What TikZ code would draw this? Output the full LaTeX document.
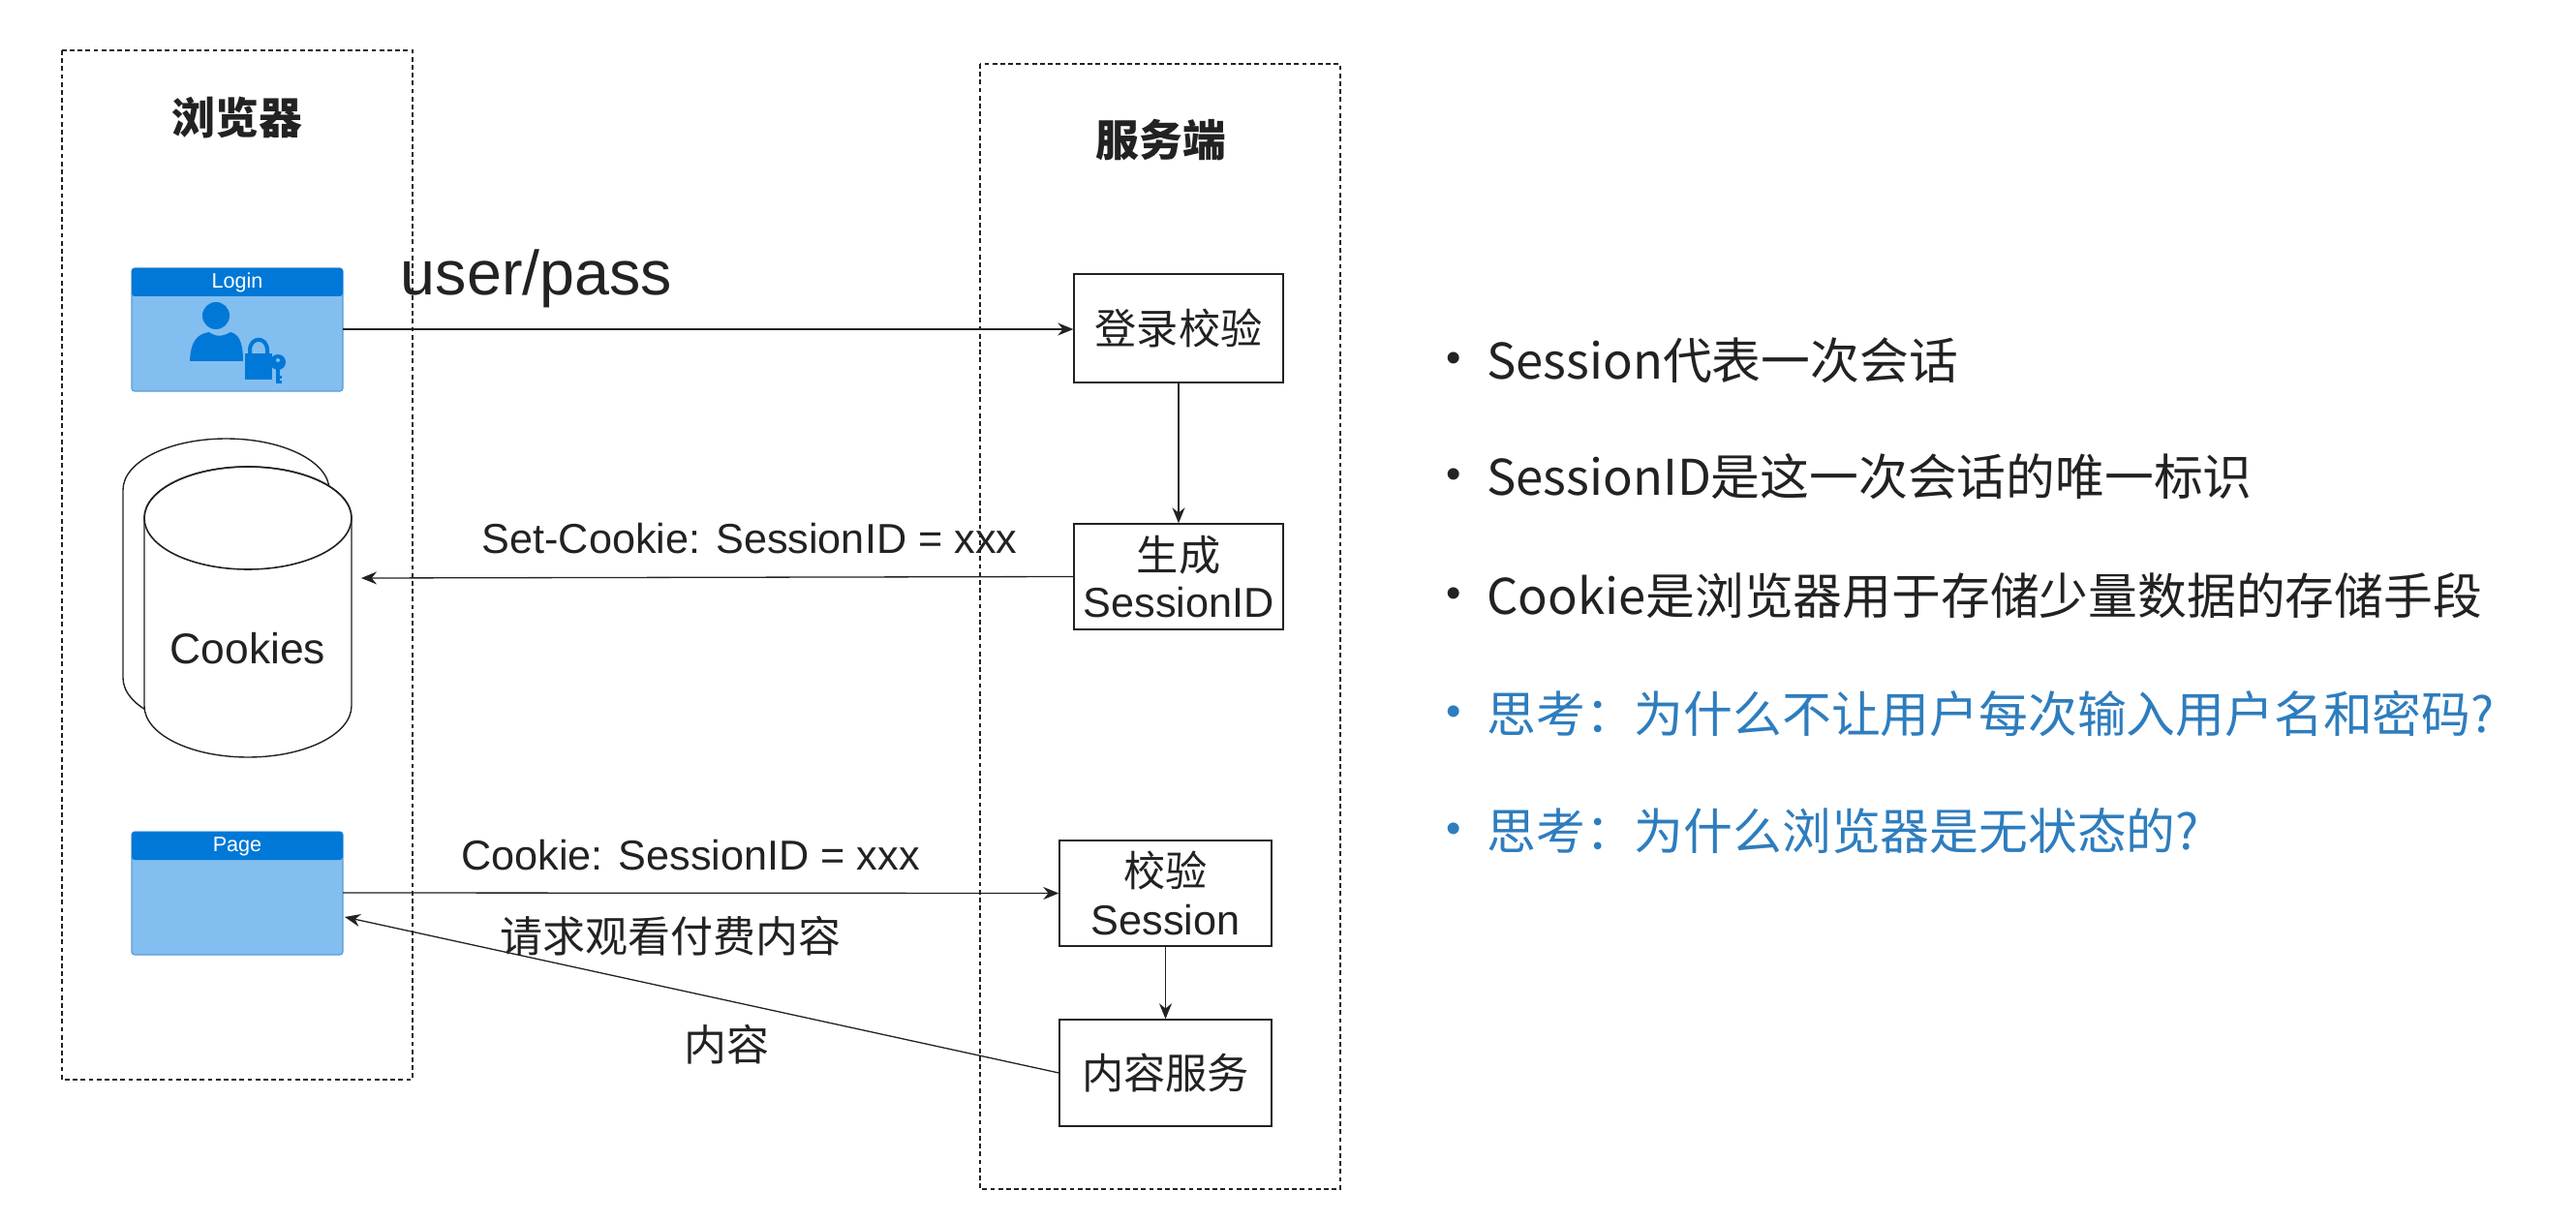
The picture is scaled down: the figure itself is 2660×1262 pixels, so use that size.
\documentclass[tikz,border=0pt]{standalone}
\usepackage{fontspec}
\setmainfont{Liberation Sans}
\newfontfamily\cjk{Noto Sans CJK SC}
\usetikzlibrary{arrows.meta}
\definecolor{hdr}{HTML}{0078D7}
\definecolor{bodyblue}{HTML}{83BEF0}
\definecolor{edgeblue}{HTML}{5A9BD5}
\definecolor{think}{HTML}{2E7DBE}
\definecolor{ink}{HTML}{222222}
\tikzset{
  px/.style={x=0.5pt,y=-0.5pt},
  zone/.style={draw=ink,dash pattern=on 2.4pt off 1.7pt,line width=0.6pt},
  stepbox/.style={draw=ink,line width=0.7pt,fill=white,align=center,inner sep=0pt,text=ink,font=\fontsize{21.6}{24}\selectfont},
  conn/.style={draw=ink,line width=0.65pt,-{Stealth[length=8pt,width=6.5pt]}},
  lbl/.style={text=ink,font=\fontsize{21.6}{25}\selectfont,inner sep=0pt},
  cjklbl/.style={text=ink,font=\cjk\fontsize{22}{26}\selectfont,inner sep=0pt},
  title/.style={text=ink,font=\cjk\bfseries\fontsize{22.4}{26}\selectfont,inner sep=0pt},
  bullet/.style={anchor=west,inner sep=0pt,font=\cjk\fontsize{25.4}{30}\selectfont,text=ink},
  dotb/.style={anchor=center,inner sep=0pt,font=\fontsize{22}{24}\selectfont,text=ink},
  win/.style={fill=bodyblue,draw=edgeblue,line width=0.6pt,rounded corners=1.5pt},
  wintitle/.style={text=white,font=\fontsize{10.8}{12}\selectfont,inner sep=0pt},
  cyl/.style={draw=ink,line width=0.7pt,fill=white},
}
\begin{document}
\begin{tikzpicture}[px]
\useasboundingbox (0,0) rectangle (2660,1262);
\fill[white] (0,0) rectangle (2660,1262);
% zones
\draw[zone] (64,52) rectangle (426,1115);
\draw[zone] (1012,66) rectangle (1384,1228);
\node[title] (tb) at (245,122) {浏览器};
\node[title] (ts) at (1199,145) {服务端};
% login window
\draw[win] (136,277) rectangle (354,404);
\fill[hdr,rounded corners=1.5pt] (136,277) rectangle (354,306);
\node[wintitle] (wl) at (245,292) {Login};
\coordinate (loginE) at (354,340);
\fill[hdr] (223,326) circle (14);
\fill[hdr] (196,373) .. controls (197,350) and (205,345) .. (216,343) .. controls (224,349) and (232,347) .. (238,343) .. controls (246,345) and (251,352) .. (251,373) -- cycle;
\fill[hdr] (253,365) rectangle (281,392);
\draw[hdr,line width=2pt] (258,366) -- (258,362) .. controls (258,347) and (276,347) .. (276,362) -- (276,366);
\fill[hdr] (287,374) circle (8);
\fill[bodyblue] (287,372) circle (2);
\fill[hdr] (285,380) rectangle (289,396);
\fill[hdr] (287,388) rectangle (291,391);
\fill[hdr] (287,393) rectangle (291,396);
% page window
\draw[win] (136,859) rectangle (354,986);
\fill[hdr,rounded corners=1.5pt] (136,859) rectangle (354,888);
\node[wintitle] (wp) at (245,874) {Page};
% cylinders
\draw[cyl] (127,506) arc (-180:0:106.5 and 53) -- (340,700) arc (0:180:106.5 and 53) -- cycle;
\draw[cyl] (149,535) arc (-180:0:107 and 53) -- (363,729) arc (0:180:107 and 53) -- cycle;
\draw[draw=ink,line width=0.8pt] (256,535) ellipse (107 and 53);
\node[lbl,font=\fontsize{22.2}{26}\selectfont] (ck) at (256,670) {Cookies};
\coordinate (ckE) at (373,597);
% server boxes
\node[stepbox,minimum width=108pt,minimum height=56pt] (b1) at (1217,339) {\cjk 登录校验};
\node[stepbox,minimum width=108pt,minimum height=54.5pt] (b2) at (1217,595.5) {\cjk 生成\\SessionID};
\node[stepbox,minimum width=109.5pt,minimum height=54.5pt] (b3) at (1203.5,922.5) {\cjk 校验\\[1pt]Session};
\node[stepbox,minimum width=109.5pt,minimum height=55pt] (b4) at (1203.5,1108) {\cjk 内容服务};
% connectors
\draw[conn] (loginE) -- (b1.west |- loginE);
\draw[conn] (b1.south) -- (b2.north);
\draw[conn] (b2.west) -- (ckE);
\coordinate (pageE) at (354,922);
\coordinate (pageR) at (356,947);
\draw[conn] (pageE) -- (b3.west);
\draw[conn] (b3.south) -- (b4.north);
\draw[conn] (b4.west) -- (pageR);
% labels
\node[lbl,font=\fontsize{32.3}{38}\selectfont,anchor=center] (up) at (554,288) {user/pass};
\node[lbl,anchor=center] (sc) at (774,556) {Set-Cookie: SessionID = xxx};
\node[lbl,anchor=center] (ci) at (713,883) {Cookie: SessionID = xxx};
\node[cjklbl] (rq) at (692,967) {请求观看付费内容};
\node[cjklbl] (nr) at (750,1079) {内容};
% bullets
\node[dotb] (d1) at (1501,374) {•};
\node[bullet] (t1) at (1535,372) {Session代表一次会话};
\node[dotb] (d2) at (1501,494) {•};
\node[bullet] (t2) at (1535,492) {SessionID是这一次会话的唯一标识};
\node[dotb] (d3) at (1501,617) {•};
\node[bullet] (t3) at (1535,615) {Cookie是浏览器用于存储少量数据的存储手段};
\node[dotb,text=think] (d4) at (1501,739) {•};
\node[bullet,text=think] (t4) at (1535,737) {思考：为什么不让用户每次输入用户名和密码?};
\node[dotb,text=think] (d5) at (1501,860) {•};
\node[bullet,text=think] (t5) at (1535,858) {思考：为什么浏览器是无状态的?};
\end{tikzpicture}
\end{document}
